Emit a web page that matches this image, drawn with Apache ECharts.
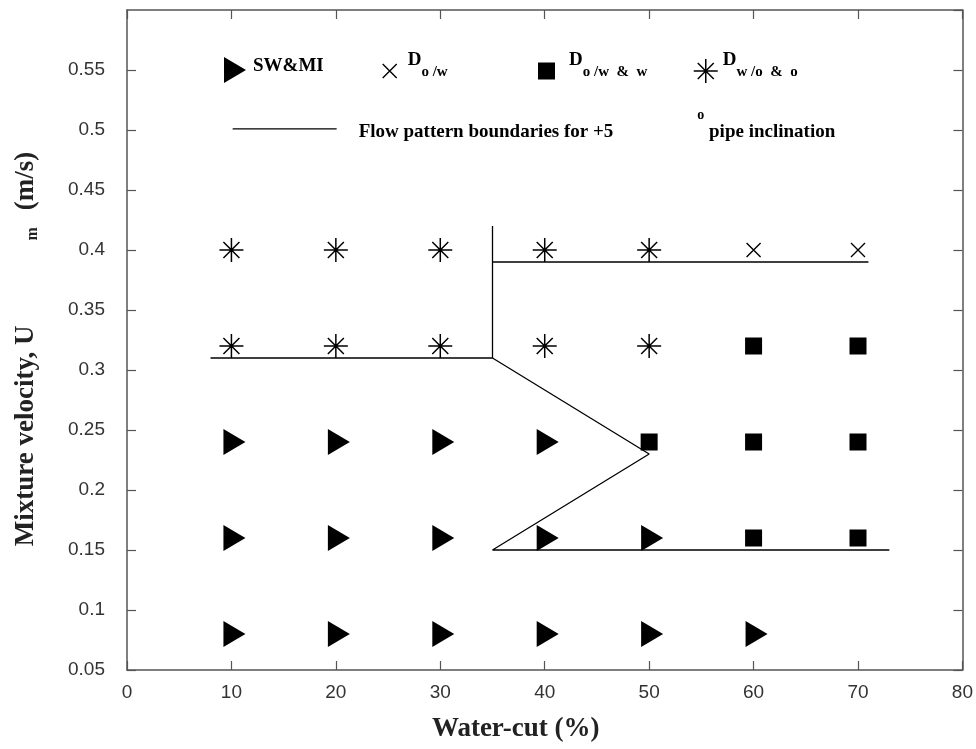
<!DOCTYPE html>
<html>
<head>
<meta charset="utf-8">
<script src="https://cdn.jsdelivr.net/npm/echarts@6/dist/echarts.min.js"></script>
<style>
  html, body { margin: 0; padding: 0; background: #fff; }
  #chart { width: 976px; height: 749px; }
</style>
</head>
<body>
<div id="chart"></div>
<script>
// Observed flow patterns: [water-cut (%), mixture velocity (m/s)]
const swmiPoints = [
  [10, 0.08], [20, 0.08], [30, 0.08], [40, 0.08], [50, 0.08], [60, 0.08],
  [10, 0.16], [20, 0.16], [30, 0.16], [40, 0.16], [50, 0.16],
  [10, 0.24], [20, 0.24], [30, 0.24], [40, 0.24]
];
const dowPoints = [[60, 0.4], [70, 0.4]];
const dowwPoints = [[60, 0.32], [70, 0.32], [50, 0.24], [60, 0.24], [70, 0.24], [60, 0.16], [70, 0.16]];
const dwooPoints = [
  [10, 0.4], [20, 0.4], [30, 0.4], [40, 0.4], [50, 0.4],
  [10, 0.32], [20, 0.32], [30, 0.32], [40, 0.32], [50, 0.32]
];

// Flow pattern boundaries for +5° inclination
const boundaryLower = [[73, 0.15], [35, 0.15], [50, 0.23], [35, 0.31], [8, 0.31]];
const boundaryVertical = [[35, 0.31], [35, 0.42]];
const boundaryUpper = [[35, 0.39], [71, 0.39]];

// Axis ranges
const xRange = { min: 0, max: 80, interval: 10 };
const yRange = { min: 0.05, max: 0.6, interval: 0.05 };

const serif = "'Liberation Serif', 'Times New Roman', serif";
const sans = "'Liberation Sans', Arial, sans-serif";

const trianglePath = 'path://M0,0L22,13L0,26Z';
const crossPath = 'path://M0,0L14,14M14,0L0,14';
const starPath = 'path://M12,0L12,24M0,12L24,12M4,4L20,20M20,4L4,20';

const boundaryName = 'Flow pattern boundaries';

function subRich(padLeft) {
  return {
    d: { fontFamily: serif, fontWeight: 'bold', fontSize: 19, lineHeight: 19, padding: [0, 0, 22, padLeft], color: '#000' },
    s: { fontFamily: serif, fontWeight: 'bold', fontSize: 15, lineHeight: 15, padding: [14, 0, 12, 0], color: '#000' }
  };
}

function strokeStyle(w) {
  return { color: 'rgba(0,0,0,0)', borderColor: '#000', borderWidth: w, opacity: 1 };
}

const legends = [
  {
    data: ['SW&MI'], left: 224, top: 57, itemWidth: 22, itemHeight: 26, icon: trianglePath,
    itemStyle: { color: '#000', opacity: 1 },
    formatter: () => '{t|SW&MI}',
    textStyle: { rich: { t: { fontFamily: serif, fontWeight: 'bold', fontSize: 19, lineHeight: 19, padding: [0, 0, 7, 2], color: '#000' } } }
  },
  {
    data: ['Do/w'], left: 382, top: 50.5, itemWidth: 14, itemHeight: 14, icon: crossPath,
    itemStyle: strokeStyle(1.4),
    formatter: () => '{d|D}{s|o /w}',
    textStyle: { rich: subRich(6) }
  },
  {
    data: ['Do/w&w'], left: 538, top: 50.5, itemWidth: 17, itemHeight: 17, icon: 'rect',
    itemStyle: { color: '#000', opacity: 1 },
    formatter: () => '{d|D}{s|o /w  &  w}',
    textStyle: { rich: subRich(9) }
  },
  {
    data: ['Dw/o&o'], left: 693, top: 50.5, itemWidth: 24, itemHeight: 24, icon: starPath,
    itemStyle: strokeStyle(1.5),
    formatter: () => '{d|D}{s|w /o  &  o}',
    textStyle: { rich: subRich(0) }
  },
  {
    data: [boundaryName], left: 232, top: 108.3, itemWidth: 104, itemHeight: 14,
    itemStyle: { color: 'rgba(0,0,0,0)', borderColor: 'rgba(0,0,0,0)', borderWidth: 0 },
    lineStyle: { color: '#000', width: 1.3 },
    formatter: () => '{t|Flow pattern boundaries for +5}{o|o}{p| pipe inclination}',
    textStyle: {
      rich: {
        t: { fontFamily: serif, fontWeight: 'bold', fontSize: 19, lineHeight: 20, padding: [14, 0, 7, 17], color: '#000' },
        o: { fontFamily: serif, fontWeight: 'bold', fontSize: 14, lineHeight: 14, padding: [0, 0, 27, 84], color: '#000' },
        p: { fontFamily: serif, fontWeight: 'bold', fontSize: 19, lineHeight: 20, padding: [14, 0, 7, 0], color: '#000' }
      }
    }
  }
].map(l => Object.assign({ show: true, orient: 'horizontal', padding: 0, selectedMode: false }, l));

function axisLine() {
  return { show: true, onZero: false, lineStyle: { color: '#555', width: 1.5 } };
}
function axisTick() {
  return { show: true, inside: true, length: 9, lineStyle: { color: '#555', width: 1.2 } };
}
function tickLabel(margin) {
  return { show: true, margin: margin, fontFamily: sans, fontSize: 19, color: '#333' };
}

function boundarySeries(data) {
  return {
    name: boundaryName, type: 'line', data: data, symbol: 'none',
    itemStyle: { color: '#000' },
    lineStyle: { color: '#000', width: 1.3 }, z: 1
  };
}

const option = {
  animation: false,
  backgroundColor: '#fff',
  grid: { left: 127, right: 10, top: 10, bottom: 79 },
  legend: legends,
  xAxis: [
    {
      type: 'value', position: 'bottom', min: xRange.min, max: xRange.max, interval: xRange.interval,
      name: 'Water-cut (%)', nameLocation: 'middle', nameGap: 46,
      nameTextStyle: { fontFamily: serif, fontWeight: 'bold', fontSize: 27, color: '#222', padding: [0, 58, 0, 0] },
      axisLine: axisLine(),
      axisTick: axisTick(),
      axisLabel: tickLabel(13),
      splitLine: { show: false }
    },
    {
      type: 'value', position: 'top', min: xRange.min, max: xRange.max, interval: xRange.interval,
      axisLine: axisLine(),
      axisTick: axisTick(),
      axisLabel: { show: false },
      splitLine: { show: false }
    }
  ],
  yAxis: [
    {
      type: 'value', position: 'left', min: yRange.min, max: yRange.max, interval: yRange.interval,
      name: '{a|Mixture velocity, U}{s|m}{b|(m/s)}', nameLocation: 'middle', nameGap: 86,
      nameTextStyle: {
        rich: {
          a: { fontFamily: serif, fontWeight: 'bold', fontSize: 27, lineHeight: 30, color: '#222' },
          s: { fontFamily: serif, fontWeight: 'bold', fontSize: 16, lineHeight: 12, verticalAlign: 'bottom', padding: [0, 0, 0, 85], color: '#222' },
          b: { fontFamily: serif, fontWeight: 'bold', fontSize: 27, lineHeight: 30, padding: [0, 18, 0, 17], color: '#222' }
        }
      },
      axisLine: axisLine(),
      axisTick: axisTick(),
      axisLabel: Object.assign(tickLabel(22), { showMaxLabel: false }),
      splitLine: { show: false }
    },
    {
      type: 'value', position: 'right', min: yRange.min, max: yRange.max, interval: yRange.interval,
      axisLine: axisLine(),
      axisTick: axisTick(),
      axisLabel: { show: false },
      splitLine: { show: false }
    }
  ],
  series: [
    boundarySeries(boundaryLower),
    boundarySeries(boundaryVertical),
    boundarySeries(boundaryUpper),
    {
      name: 'SW&MI', type: 'scatter', data: swmiPoints,
      symbol: trianglePath, symbolSize: [22, 26], symbolOffset: [3, 0],
      itemStyle: { color: '#000', opacity: 1 }, z: 3
    },
    {
      name: 'Do/w', type: 'scatter', data: dowPoints,
      symbol: crossPath, symbolSize: 14,
      itemStyle: strokeStyle(1.4), z: 3
    },
    {
      name: 'Do/w&w', type: 'scatter', data: dowwPoints,
      symbol: 'rect', symbolSize: 17,
      itemStyle: { color: '#000', opacity: 1 }, z: 3
    },
    {
      name: 'Dw/o&o', type: 'scatter', data: dwooPoints,
      symbol: starPath, symbolSize: 24,
      itemStyle: strokeStyle(1.5), z: 3
    }
  ]
};

const chart = echarts.init(document.getElementById('chart'), null, { renderer: 'canvas' });
chart.setOption(option);
</script>
</body>
</html>
